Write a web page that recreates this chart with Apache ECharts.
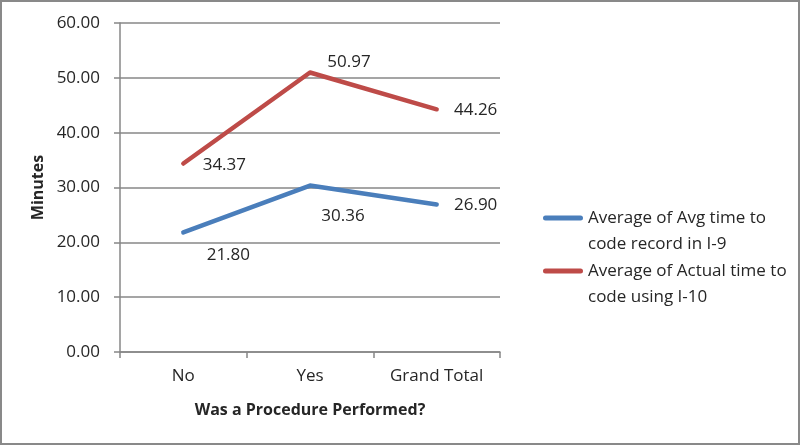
<!DOCTYPE html>
<html>
<head>
<meta charset="utf-8">
<script src="https://cdn.jsdelivr.net/npm/echarts@6/dist/echarts.min.js"></script>
<style>
html,body{margin:0;padding:0;background:#fff;}
#chart{width:800px;height:445px;}
</style>
</head>
<body>
<div id="chart"></div>
<script>
const categories = ['No', 'Yes', 'Grand Total'];
const seriesNames = ['Average of Avg time to\ncode record in I-9', 'Average of Actual time to\ncode using I-10'];
const avgI9 = [21.80, 30.36, 26.90];
const actualI10 = [34.37, 50.97, 44.26];
const yTicks = { min: 0, max: 60, interval: 10 };

// label placement (style only)
const blueLabelOffsets = [[45, 23], [33, 31], [39, 1]];
const redLabelOffsets = [[41, 2], [39, -10], [39, 1]];

const FONT = '"Open Sans"';
const TXT = '#262626';
const GRID = '#878787';
const BLUE = '#4A7EBB';
const RED = '#BE4B48';

function items(vals, offs) {
  return vals.map((v, i) => ({ value: v, label: { offset: offs[i] } }));
}

const chart = echarts.init(document.getElementById('chart'));
const legendIcon = 'path://M2.5,10.5H37.5A2.5,2.5,0,0,1,37.5,15.5H2.5A2.5,2.5,0,0,1,2.5,10.5Z M0,0L0.01,0 M40,52L39.99,52';

function lineSeries(name, vals, offs, color) {
  return {
    name: name,
    type: 'line',
    data: items(vals, offs),
    symbol: 'circle',
    symbolSize: 2,
    showSymbol: true,
    itemStyle: { color: color },
    lineStyle: { color: color, width: 4.5, cap: 'round', join: 'round' },
    label: {
      show: true,
      position: 'inside',
      align: 'center',
      verticalAlign: 'middle',
      color: TXT,
      fontFamily: FONT,
      fontSize: 17,
      formatter: p => Number(p.value).toFixed(2)
    },
    emphasis: { disabled: true },
    silent: true
  };
}

chart.setOption({
  animation: false,
  backgroundColor: '#fff',
  graphic: [{
    type: 'rect',
    shape: { x: 1, y: 1, width: 798, height: 443 },
    style: { fill: 'none', stroke: '#898989', lineWidth: 2 },
    silent: true
  }],
  grid: { left: 120, right: 300, top: 23, bottom: 93 },
  legend: {
    orient: 'vertical',
    left: 538,
    top: 200,
    itemWidth: 40,
    itemHeight: 52,
    itemGap: 1,
    icon: legendIcon,
    itemStyle: { borderWidth: 0 },
    textStyle: { fontFamily: FONT, fontSize: 17, color: TXT, lineHeight: 26 },
    data: seriesNames,
    selectedMode: false
  },
  xAxis: {
    type: 'category',
    data: categories,
    boundaryGap: true,
    name: 'Was a Procedure Performed?',
    nameLocation: 'middle',
    nameGap: 50,
    nameTextStyle: { fontFamily: FONT, fontSize: 16, fontWeight: 'bold', color: TXT },
    axisLine: { show: true, lineStyle: { color: GRID, width: 1.5 } },
    axisTick: { show: true, length: 6, alignWithLabel: false, lineStyle: { color: GRID, width: 1.5 } },
    axisLabel: { fontFamily: FONT, fontSize: 17, color: TXT, margin: 16 },
    splitLine: { show: false }
  },
  yAxis: {
    type: 'value',
    min: yTicks.min,
    max: yTicks.max,
    interval: yTicks.interval,
    name: 'Minutes',
    nameLocation: 'middle',
    nameGap: 74,
    nameRotate: 90,
    nameTextStyle: { fontFamily: FONT, fontSize: 16, fontWeight: 'bold', color: TXT },
    axisLine: { show: true, lineStyle: { color: GRID, width: 1.5 } },
    axisTick: { show: true, length: 6, lineStyle: { color: GRID, width: 1.5 } },
    axisLabel: { fontFamily: FONT, fontSize: 17, color: TXT, margin: 20, formatter: v => v.toFixed(2) },
    splitLine: { show: true, lineStyle: { color: GRID, width: 1.5 } }
  },
  series: [
    lineSeries(seriesNames[0], avgI9, blueLabelOffsets, BLUE),
    lineSeries(seriesNames[1], actualI10, redLabelOffsets, RED)
  ]
});
</script>
</body>
</html>
